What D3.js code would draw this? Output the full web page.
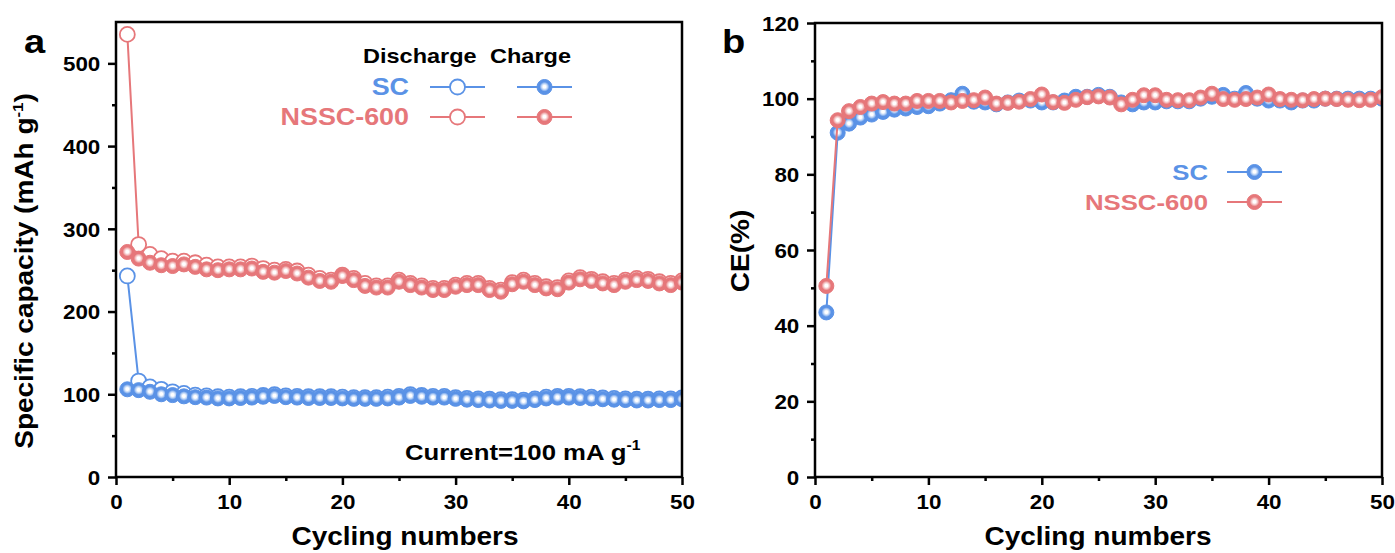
<!DOCTYPE html>
<html><head><meta charset="utf-8">
<script src="https://cdn.jsdelivr.net/npm/d3@7/dist/d3.min.js"></script>
<style>
html,body{margin:0;padding:0;background:#fff;}
svg text{font-family:"Liberation Sans",Arial,sans-serif;font-weight:bold;}
</style></head>
<body><svg id="chart" width="1395" height="553"></svg>
<script>
// ---------- data ----------
const cycles = d3.range(1, 51);
const scDischarge = [243,116,109,106,103,101,99,98,97,96.5,97,97.5,98.5,99.5,98,97.5,97,97,97,96.5,96,96,96,96.5,97.5,99.5,98.5,97.5,97.5,96,95,94.5,94,93.5,93.5,93,94.5,96.5,97.5,97.5,97,96.5,95.5,95,94.5,94,94,94.5,94.5,95.5];
const scCharge = [106,105,103,100,99,97.5,96.5,96,95,95,95.5,96,97,98,96.5,96,95.5,95.5,95.5,95,94.5,94.5,94.5,95,96,98,97,96,96,94.5,93.5,93,92.5,92,92,91.5,93,95,96,96,95.5,95,94,93.5,93,92.5,92.5,93,93,94];
const nsscDischarge = [535,281,269,264,261,261,259,256,254,254,254,255,252,250,251,249,244,240,238,244,240,234,231,231,238,234,231,228,228,232,234,234,228,226,235,238,234,230,229,237,241,239,236,234,238,240,239,236,234,237];
const nsscCharge = [272,264,259,256,255,257,254,251,250,251,251,252,248,247,249,246,241,237,236,243,238,231,229,229,236,232,229,226,226,230,232,232,226,224,233,236,232,228,227,235,239,237,234,232,236,238,237,234,232,235];
const scCE = [43.5,91,93.4,95,95.8,96.5,97.1,97.4,97.8,98,98.7,99.6,101.3,99.2,99,98.5,99,99.5,99.5,99,99,99.5,100.5,100.5,101,100.5,99,98.5,99,99,99.3,99.3,99.3,100,100.5,101,100,101.5,100,99.5,99.5,99,99.5,99.5,100,100,100,100,100,100];
const nsscCE = [50.5,94.3,96.7,97.8,98.7,99.1,98.7,98.7,99.4,99.4,99.4,99,99.4,99.6,100.3,98.7,98.9,99.2,99.9,101.1,99.1,98.9,99.7,100.4,100.6,100.3,98.5,99.7,100.9,100.9,99.7,99.6,99.6,100.3,101.3,99.9,99.7,99.9,100.3,101.1,99.9,99.7,99.6,99.9,100,99.9,99.7,99.6,99.7,100.4];

const xTicks = [0,10,20,30,40,50];
const xMinor = [5,15,25,35,45];
const capTicks = [0,100,200,300,400,500];
const capMinor = [50,150,250,350,450];
const ceTicks = [0,20,40,60,80,100,120];
const ceMinor = [10,30,50,70,90,110];
const seriesNames = ["SC","NSSC-600"];

const BLUE = "#5a92e6", RED = "#e6777a";
const SX = 1.12; // horizontal text stretch of the reference

const svg = d3.select("#chart");
const defs = svg.append("defs");
function grad(id, col, tint){
  const g = defs.append("radialGradient").attr("id", id).attr("cx","50%").attr("cy","48%").attr("r","52%");
  g.append("stop").attr("offset","0%").attr("stop-color","#ffffff");
  g.append("stop").attr("offset","18%").attr("stop-color","#ffffff");
  g.append("stop").attr("offset","40%").attr("stop-color",tint);
  g.append("stop").attr("offset","62%").attr("stop-color",col);
  g.append("stop").attr("offset","100%").attr("stop-color",col);
}
grad("gBlue", BLUE, "#b9d2f6"); grad("gRed", RED, "#f4c3c4");
const gradOf = c => c === BLUE ? "url(#gBlue)" : "url(#gRed)";

function panel(cfg){
  const {L,R,T,B,yDomain,yTicks,yMinor,id} = cfg;
  const x = d3.scaleLinear().domain([0,50]).range([L,R]);
  const y = d3.scaleLinear().domain(yDomain).range([B,T]);
  const g = svg.append("g");
  defs.append("clipPath").attr("id", id).append("rect").attr("x",L).attr("y",T).attr("width",R-L).attr("height",B-T);

  const xa = g.append("g").attr("transform",`translate(0,${B})`)
    .call(d3.axisBottom(x).tickValues(xTicks).tickSize(8).tickPadding(10).tickFormat(d3.format("d")));
  g.append("g").attr("transform",`translate(0,${B})`)
    .call(d3.axisBottom(x).tickValues(xMinor).tickSize(4).tickFormat(""));
  const ya = g.append("g").attr("transform",`translate(${L},0)`)
    .call(d3.axisLeft(y).tickValues(yTicks).tickSize(8).tickPadding(6).tickFormat(d3.format("d")));
  g.append("g").attr("transform",`translate(${L},0)`)
    .call(d3.axisLeft(y).tickValues(yMinor).tickSize(4).tickFormat(""));
  g.selectAll(".domain").remove();
  g.selectAll(".tick line").attr("stroke","#000").attr("stroke-width",2.5);
  g.selectAll(".tick text").attr("font-size",20).attr("font-family",'"Liberation Sans",Arial,sans-serif')
    .attr("font-weight","bold").attr("fill","#000");
  xa.selectAll(".tick text").attr("transform",`scale(${SX},1)`);
  ya.selectAll(".tick text").attr("transform",`scale(${SX},1)`).attr("dy","0.36em");

  const plot = g.append("g").attr("clip-path",`url(#${id})`);
  g.append("rect").attr("x",L).attr("y",T).attr("width",R-L).attr("height",B-T)
    .attr("fill","none").attr("stroke","#000").attr("stroke-width",2.5);
  return {x,y,g,plot};
}

function series(p, vals, col, open, r){
  const line = d3.line().x((d,i)=>p.x(cycles[i])).y(d=>p.y(d));
  p.plot.append("path").datum(vals).attr("d",line).attr("fill","none").attr("stroke",col).attr("stroke-width",2);
  p.plot.append("g").selectAll("circle").data(vals).join("circle")
    .attr("cx",(d,i)=>p.x(cycles[i])).attr("cy",d=>p.y(d)).attr("r",r)
    .attr("fill", open ? "#fff" : gradOf(col))
    .attr("stroke", col).attr("stroke-width", open ? 1.8 : 1);
}

// ---------- panel a ----------
const pa = panel({L:116,R:682,T:22,B:477,yDomain:[0,550],yTicks:capTicks,yMinor:capMinor,id:"clipA"});
series(pa, scDischarge, BLUE, true, 7.5);
series(pa, scCharge, BLUE, false, 7.5);
series(pa, nsscDischarge, RED, true, 7.5);
series(pa, nsscCharge, RED, false, 7.5);

// ---------- panel b ----------
const pb = panel({L:815,R:1382,T:23,B:477,yDomain:[0,120],yTicks:ceTicks,yMinor:ceMinor,id:"clipB"});
series(pb, scCE, BLUE, false, 7.5);
series(pb, nsscCE, RED, false, 7.5);

// ---------- titles ----------
const root = svg.append("g");
root.append("text").attr("transform",`translate(405,545) scale(${SX},1)`).attr("font-size",25).attr("text-anchor","middle").text("Cycling numbers");
root.append("text").attr("transform",`translate(1098,545) scale(${SX},1)`).attr("font-size",25).attr("text-anchor","middle").text("Cycling numbers");
{
  const t = root.append("text").attr("transform",`translate(33,271) rotate(-90) scale(${SX},1)`)
    .attr("font-size",25).attr("text-anchor","middle");
  t.append("tspan").text("Specific capacity (mAh g");
  t.append("tspan").attr("font-size",15).attr("dy",-10).text("-1");
  t.append("tspan").attr("dy",10).text(")");
}
root.append("text").attr("transform",`translate(749,251) rotate(-90) scale(${SX},1)`)
  .attr("font-size",25).attr("text-anchor","middle").text("CE(%)");
{
  const t = root.append("text").attr("transform",`translate(405,460) scale(${SX},1)`).attr("font-size",23);
  t.append("tspan").text("Current=100 mA g");
  t.append("tspan").attr("font-size",14).attr("dy",-10).text("-1");
}
root.append("text").attr("transform",`translate(24,53) scale(${SX},1)`).attr("font-size",34).text("a");
root.append("text").attr("transform",`translate(722,53) scale(${SX},1)`).attr("font-size",34).text("b");

// ---------- legend a ----------
root.append("text").attr("transform",`translate(363,63) scale(${SX},1)`).attr("font-size",21).text("Discharge");
root.append("text").attr("transform",`translate(490,63) scale(${SX},1)`).attr("font-size",21).text("Charge");
function legItem(x0, x1, y, col, open){
  root.append("line").attr("x1",x0).attr("x2",x1).attr("y1",y).attr("y2",y).attr("stroke",col).attr("stroke-width",2);
  root.append("circle").attr("cx",(x0+x1)/2).attr("cy",y).attr("r",7.5)
    .attr("fill", open ? "#fff" : gradOf(col)).attr("stroke",col).attr("stroke-width", open?1.8:1);
}
[[seriesNames[0], BLUE, 87],[seriesNames[1], RED, 117]].forEach(([n,c,yy])=>{
  root.append("text").attr("transform",`translate(409,${yy+8}) scale(${SX},1)`).attr("font-size",24)
    .attr("text-anchor","end").attr("fill",c).text(n);
  legItem(430,485,yy,c,true);
  legItem(517,572,yy,c,false);
});
// ---------- legend b ----------
[[seriesNames[0], BLUE, 172],[seriesNames[1], RED, 202]].forEach(([n,c,yy])=>{
  root.append("text").attr("transform",`translate(1208,${yy+8}) scale(${SX},1)`).attr("font-size",23)
    .attr("text-anchor","end").attr("fill",c).text(n);
  legItem(1227,1282,yy,c,false);
});
</script></body></html>
